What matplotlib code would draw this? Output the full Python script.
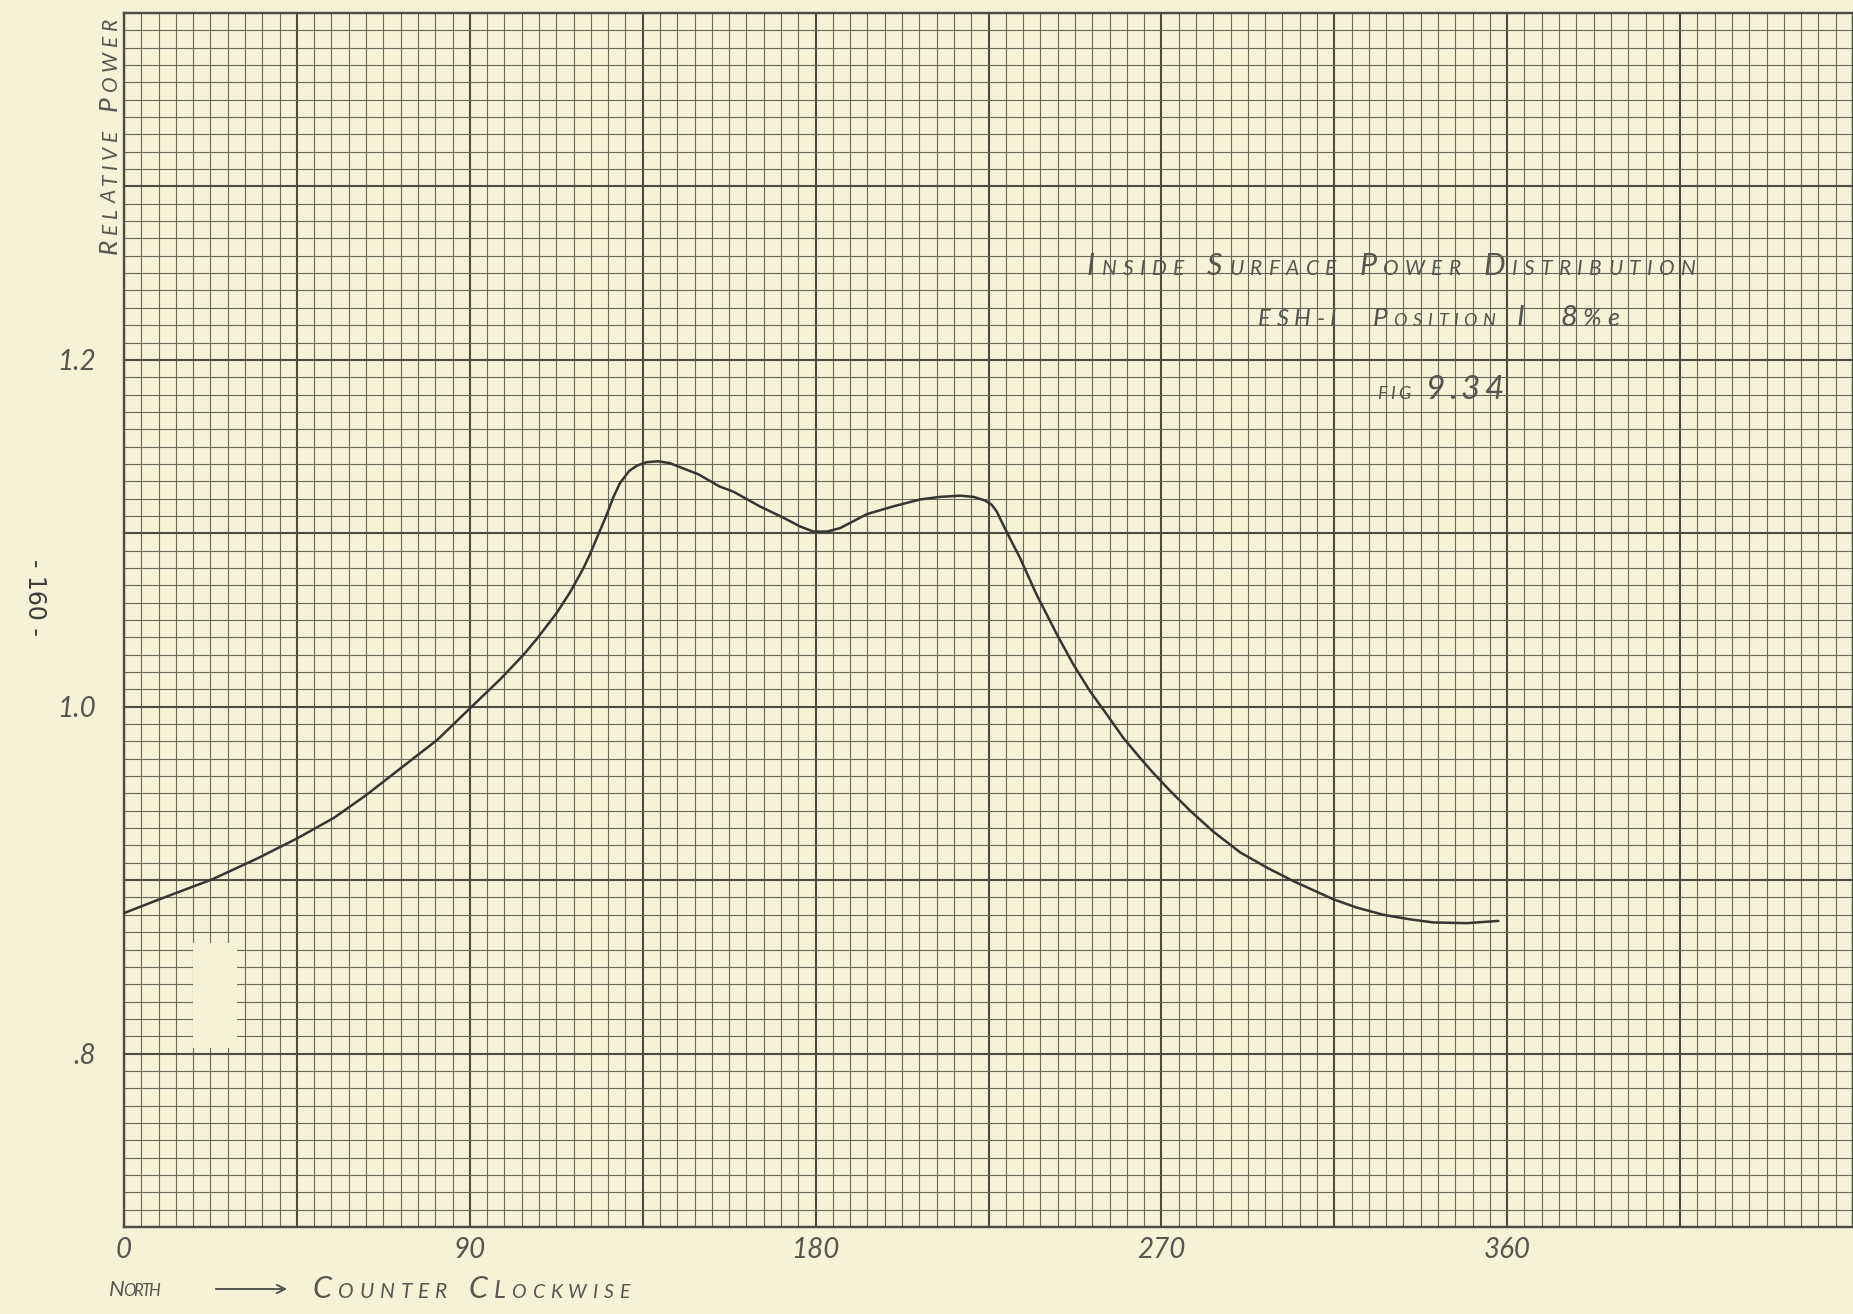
import matplotlib
matplotlib.use("Agg")
import matplotlib.pyplot as plt
from matplotlib.ticker import MultipleLocator, FuncFormatter
from matplotlib.patches import Rectangle, FancyArrowPatch

# ---- data -------------------------------------------------------------
angle_deg = [0, 8.7, 23, 34.7, 45, 54.7, 63, 72, 81.6, 90, 98, 104, 107.4,
             112.6, 116.1, 119.6, 121.3, 123, 125.5, 127.4, 129.1, 131.5,
             133.5, 136, 139, 142, 149.5, 155, 158.6, 165.5, 171.6, 175.9,
             179.4, 183, 186.4, 193.3, 200.2, 207.2, 212.4, 217.6, 221.1,
             224, 225.8, 227.1, 228.8, 230.6, 233.2, 237.5, 242.8, 247.1,
             251.4, 255.8, 260.1, 264.4, 268, 272.3, 277.5, 283.5, 290.5,
             297.4, 304.3, 314.7, 320.8, 327.8, 334.7, 340.8, 349.5, 357.7]
relative_power = [0.881, 0.8885, 0.9005, 0.9125, 0.924, 0.936, 0.949, 0.9645,
                  0.981, 0.999, 1.016, 1.030, 1.039, 1.054, 1.066, 1.080,
                  1.088, 1.097, 1.110, 1.121, 1.129, 1.136, 1.139, 1.141,
                  1.1415, 1.1405, 1.134, 1.127, 1.124, 1.1155, 1.109, 1.104,
                  1.101, 1.101, 1.103, 1.111, 1.1155, 1.1195, 1.121, 1.1217,
                  1.121, 1.119, 1.1165, 1.1127, 1.105, 1.097, 1.0858, 1.0647,
                  1.0417, 1.0243, 1.009, 0.9955, 0.982, 0.9706, 0.9615,
                  0.9514, 0.940, 0.928, 0.916, 0.9073, 0.8995, 0.889, 0.8842,
                  0.880, 0.8774, 0.8756, 0.8752, 0.8765]

x_tick_values = [0, 90, 180, 270, 360]
x_tick_labels = ["0", "90", "180", "270", "360"]
y_tick_values = [0.8, 1.0, 1.2]
y_tick_labels = [".8", "1.0", "1.2"]

# ---- styling ----------------------------------------------------------
W, H, DPI = 1853, 1314, 100
PAPER = "#f5f2d8"
GRID = "#676a59"
GRID_DARK = "#4a4d40"
INK = "#55564e"
CURVE = "#35362f"
HAND = dict(family=["Lato", "DejaVu Sans"], style="italic", weight="normal",
            color=INK)

fig = plt.figure(figsize=(W / DPI, H / DPI), dpi=DPI, facecolor=PAPER)
ax = fig.add_axes([124 / W, 87 / H, 1 - 124 / W, (1227 - 13) / H])
ax.set_facecolor(PAPER)
ax.set_xlim(0, 450)
ax.set_ylim(0.7, 1.4)

# graph-paper ruling: fine squares with a heavier line every tenth
ax.xaxis.set_major_locator(MultipleLocator(45))
ax.xaxis.set_minor_locator(MultipleLocator(4.5))
ax.yaxis.set_major_locator(MultipleLocator(0.1))
ax.yaxis.set_minor_locator(MultipleLocator(0.01))
ax.set_axisbelow(True)
ax.grid(which="minor", color=GRID, lw=0.8)
ax.grid(which="major", color=GRID_DARK, lw=1.5)
for sp in ax.spines.values():
    sp.set_color(GRID_DARK)
    sp.set_linewidth(1.7)

xlab = {round(v, 3): s for v, s in zip(x_tick_values, x_tick_labels)}
ylab = {round(v, 3): s for v, s in zip(y_tick_values, y_tick_labels)}
ax.xaxis.set_major_formatter(FuncFormatter(lambda v, p: xlab.get(round(v, 3), "")))
ax.yaxis.set_major_formatter(FuncFormatter(lambda v, p: ylab.get(round(v, 3), "")))
ax.tick_params(which="both", length=0)
ax.tick_params(axis="x", pad=7)
ax.tick_params(axis="y", pad=20)
for lbl in ax.get_xticklabels() + ax.get_yticklabels():
    lbl.set_fontsize(20)
    lbl.set_fontfamily(HAND["family"])
    lbl.set_fontstyle("italic")
    lbl.set_fontweight("normal")
    lbl.set_color(INK)

# blank spot on the sheet where the ruling is missing
ax.add_patch(Rectangle((18.0, 0.803), 11.5, 0.061, facecolor=PAPER,
                       edgecolor="none", zorder=1))

ax.plot(angle_deg, relative_power, color=CURVE, lw=1.8,
        solid_joinstyle="round", solid_capstyle="round", zorder=3)


# ---- hand lettering ---------------------------------------------------
def letter(x0, y0, chunks, span, rotation=0):
    """Place lettering glyph by glyph (pixel coords from top-left),
    spreading the glyphs evenly over `span` pixels."""
    r = fig.canvas.get_renderer()
    items = []
    for text, size in chunks:
        for ch in text:
            if ch == " ":
                items.append((None, size * 0.5 * DPI / 72))
                continue
            t = fig.text(0, 0, ch, fontsize=size, rotation=rotation,
                         rotation_mode="anchor", ha="left", va="baseline",
                         transform=fig.transFigure, **HAND)
            bb = t.get_window_extent(r)
            items.append((t, bb.height if rotation else bb.width))
    total = sum(a for _, a in items)
    gap = (span - total) / max(len(items) - 1, 1)
    pos = 0.0
    for art, adv in items:
        if art is not None:
            if rotation:
                art.set_position((x0 / W, 1 - (y0 - pos) / H))
            else:
                art.set_position(((x0 + pos) / W, 1 - y0 / H))
        pos += adv + gap


letter(117, 254, [("R", 19), ("ELATIVE", 15), (" ", 14), ("P", 19),
                  ("OWER", 15)], 236, rotation=90)

letter(1087, 275, [("I", 22), ("NSIDE", 15), (" ", 14), ("S", 22),
                   ("URFACE", 15), (" ", 14), ("P", 22), ("OWER", 15),
                   (" ", 14), ("D", 22), ("ISTRIBUTION", 15)], 609)

letter(1258, 326, [("ESH-I", 17), ("  ", 14), ("P", 19), ("OSITION", 13),
                   (" ", 14), ("I", 21), ("  ", 14), ("8", 21),
                   ("%e", 18)], 361)

letter(1377, 399, [("FIG", 13), (" ", 12), ("9.34", 24)], 126)

letter(109, 1296, [("N", 16), ("ORTH", 12)], 51)
letter(313, 1298, [("C", 22), ("OUNTER", 15), (" ", 14), ("C", 22),
                   ("L", 18), ("OCKWISE", 14)], 317)

fig.add_artist(FancyArrowPatch((213 / W, 1 - 1289 / H), (290 / W, 1 - 1289 / H),
                               transform=fig.transFigure,
                               arrowstyle="->,head_length=6,head_width=3",
                               color=INK, lw=1.4))

fig.text(35 / W, 1 - 597 / H, "- 160 -", rotation=270, ha="center",
         va="center", fontsize=17, family="DejaVu Sans", color="#3c3d37")

fig.savefig("out.png", dpi=DPI, facecolor=PAPER)
